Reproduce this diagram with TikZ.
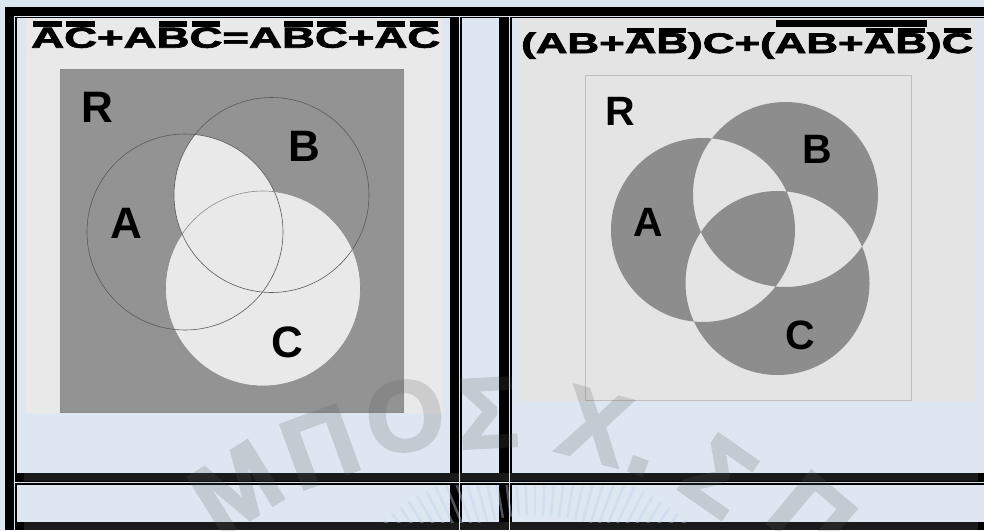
\documentclass[tikz,border=0pt]{standalone}
\usepackage{fontspec}
\setmainfont{Liberation Sans}
\newfontfamily\heavyfont{Liberation Sans Bold}[FakeBold=2.2]
\newfontfamily\wmfont{Liberation Sans Bold}[FakeBold=2.5]
\usepackage{graphicx}
\definecolor{pagebg}{HTML}{DCE6F1}
\definecolor{cellbg}{HTML}{DDE6F1}
\definecolor{bandc}{HTML}{1A1A1A}
\definecolor{imgL}{HTML}{E9E9E9}
\definecolor{darkL}{HTML}{939393}
\definecolor{imgR}{HTML}{E4E4E4}
\definecolor{darkR}{HTML}{8D8D8D}
\definecolor{wmgray}{HTML}{5A5A5A}
\definecolor{ringc}{HTML}{BDD3EC}
\newcommand\ob[1]{\setbox0\hbox{#1}\vbox{\offinterlineskip\hbox to\wd0{\hskip0.05em\vrule height 2.05pt depth 0pt width \dimexpr\wd0-0.1em\relax\hss}\kern0.3pt\box0}}
\newcommand\obs[1]{\setbox0\hbox{#1}\vbox{\offinterlineskip\hbox to\wd0{\hskip0.05em\vrule height 1.8pt depth 0pt width \dimexpr\wd0-0.1em\relax\hss}\kern0.2pt\box0}}
\newcommand\obl[1]{\setbox2\hbox{#1}\vbox{\offinterlineskip\hbox to\wd2{\hskip0.02em\vrule height 2.4pt depth 0pt width \dimexpr\wd2-0.02em\relax\hss}\kern0.36pt\box2}}
\newcommand\titleL{\fontsize{10}{10}\heavyfont\ob{A}\ob{C}+A\ob{B}\ob{C}=A\ob{B}\ob{C}+\ob{A}\ob{C}}
\newcommand\titleR{\fontsize{10}{10}\heavyfont(AB+\obs{A}\obs{B})C+(\obl{AB+\obs{A}\obs{B}})\obs{C}}
\begin{document}
\begin{tikzpicture}[x=1pt,y=-1pt,
  gridline/.style={draw=pagebg,line width=1pt},
  lbl/.style={font=\fontsize{44}{44}\selectfont\bfseries,inner sep=0},
  lblr/.style={font=\fontsize{41}{41}\selectfont\bfseries,inner sep=0},
  circline/.style={draw=black!65,line width=0.6pt},
  wm/.style={font=\fontsize{100}{100}\wmfont,text=wmgray,inner sep=0}]
\useasboundingbox (0,0) rectangle (984,530);
% page and table frame
\fill[pagebg] (0,0) rectangle (984,530);
\fill[black] (5,7) rectangle (984,530);
\fill[bandc] (24,473) rectangle (978,481);
\fill[bandc] (24,522) rectangle (978,530);
\draw[gridline] (14.5,16.2) -- (984,16.2);
\draw[gridline] (14.5,482.2) -- (984,482.2);
\draw[gridline] (14.5,16.2) -- (14.5,530);
\draw[gridline] (459.8,16.2) -- (459.8,530);
\draw[gridline] (509.5,16.2) -- (509.5,530);
% cell interiors
\fill[cellbg] (17,18) rectangle (450,473);
\fill[cellbg] (462,18) rectangle (499,473);
\fill[cellbg] (512,18) rectangle (984,473);
\fill[cellbg] (17,485) rectangle (450,522);
\fill[cellbg] (462,485) rectangle (499,522);
\fill[cellbg] (512,485) rectangle (984,522);
% faint seal of the watermark
\begin{scope}
\clip (17,485) rectangle (984,522);
\foreach \a in {30,32.5,...,150}
  \draw[ringc,line width=2.5pt,opacity=0.4] (535,700) ++(-\a:185) -- ++(-\a:50);
\end{scope}
% ---------- left picture ----------
\fill[imgL] (26,18) rectangle (443,413);
\filldraw[fill=darkL,draw=black!45,line width=0.5pt] (60,69) rectangle (403,412);
\begin{scope}
\clip (185,232) circle[radius=98];
\fill[imgL] (271.5,195) circle[radius=97.5];
\end{scope}
\fill[imgL] (263,288.5) circle[radius=97.5];
\draw[circline] (185,232) circle[radius=98];
\draw[circline] (271.5,195) circle[radius=97.5];
\draw[circline,draw=black!45] (263,288.5) circle[radius=97.5];
\node[anchor=base west,inner sep=0] (tL) at (31,47.7) {\resizebox{409pt}{27pt}{\titleL}};
\node[lbl] (lR) at (97,107.5) {R};
\node[lbl] (lA) at (126,223.5) {A};
\node[lbl] (lB) at (304,146.5) {B};
\node[lbl] (lC) at (287.5,342.5) {C};
% ---------- right picture ----------
\fill[imgR] (520,18) rectangle (976,401);
\draw[black!25,line width=0.6pt] (585,75) rectangle (911,400);
\fill[darkR,even odd rule] (703,230) circle[radius=92] (785.5,194.5) circle[radius=92.5] (777.5,283) circle[radius=92];
\node[anchor=base west,inner sep=0] (tR) at (521,53) {\resizebox{452pt}{33pt}{\titleR}};
\node[lblr] (rR) at (620,111) {R};
\node[lblr] (rA) at (648,222.5) {A};
\node[lblr] (rB) at (817,149.5) {B};
\node[lblr] (rC) at (800.5,335) {C};
% ---------- watermark ----------
\begin{scope}[transparency group,opacity=0.2]
\node[wm,rotate=32] (w1) at (236,488) {Μ};
\node[wm,rotate=20] (w2) at (320,447) {Π};
\node[wm,rotate=8] (w3) at (405,416) {Ο};
\node[wm,rotate=3] (w4) at (488,413) {Σ};
\node[wm,rotate=-15] (w5) at (595,426) {Χ};
\node[wm,rotate=-20] (w6) at (638,466) {.};
\node[wm,rotate=-35] (w7) at (719,476) {Σ};
\node[wm,rotate=-40] (w8) at (812,516) {Π};
\end{scope}
\end{tikzpicture}
\end{document}
